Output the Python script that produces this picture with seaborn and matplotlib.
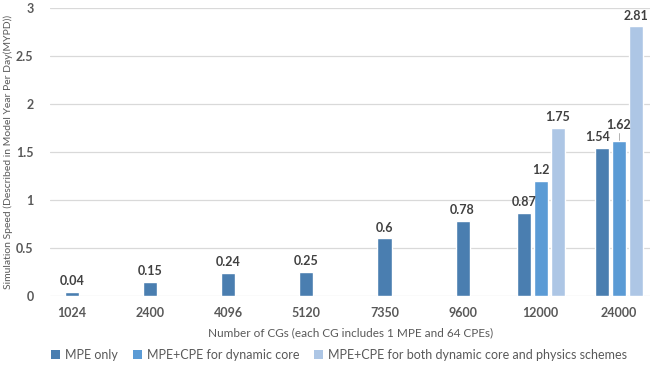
import seaborn as sns
import matplotlib.pyplot as plt
import pandas as pd
import numpy as np
from matplotlib.patches import Patch

# Chart values
categories = ['1024', '2400', '4096', '5120', '7350', '9600', '12000', '24000']
series_names = ['MPE only', 'MPE+CPE for dynamic core',
                'MPE+CPE for both dynamic core and physics schemes']
mpe_only = [0.04, 0.15, 0.24, 0.25, 0.6, 0.78, 0.87, 1.54]
mpe_cpe_dyn = [None, None, None, None, None, None, 1.2, 1.62]
mpe_cpe_both = [None, None, None, None, None, None, 1.75, 2.81]
colors = ['#4A7EB0', '#5B9BD5', '#ADC6E5']

# Build long table; bars in each group centred on the category
step = 0.217
rows = []
for i, cat in enumerate(categories):
    vals = [mpe_only[i], mpe_cpe_dyn[i], mpe_cpe_both[i]]
    present = [(s, v) for s, v in zip(series_names, vals) if v is not None]
    n = len(present)
    for j, (s, v) in enumerate(present):
        rows.append({'pos': i + (j - (n - 1) / 2) * step, 'value': v, 'series': s})
df = pd.DataFrame(rows)

sns.set_style('white')
plt.rcParams['font.family'] = ['Lato', 'DejaVu Sans']

fig = plt.figure(figsize=(6.52, 3.7), dpi=100)
ax = fig.add_axes([0.077, 0.2, 0.92, 0.778])

sns.barplot(data=df, x='pos', y='value', hue='series', hue_order=series_names,
            palette=colors, saturation=1, native_scale=True, dodge=False, width=0.83,
            legend=False, ax=ax)

# Data labels (the two crowded ones in the last group are nudged apart)
last = len(categories) - 1
for _, r in df.iterrows():
    dx, dy = 0, 0.05
    if round(r['pos']) == last and r['series'] == series_names[0]:
        dx = -0.05
    if round(r['pos']) == last and r['series'] == series_names[1]:
        dy = 0.1
        ax.plot([r['pos'], r['pos']], [r['value'] + 0.01, r['value'] + 0.08],
                color='#A6A6A6', lw=0.6)
    ax.text(r['pos'] + dx, r['value'] + dy, f"{r['value']:g}", ha='center', va='bottom',
            fontsize=9, fontweight='bold', color='#404040')

ax.set_ylim(0, 3)
ax.set_xlim(-0.28, 7.4)
ax.set_yticks(np.arange(0, 3.01, 0.5))
ax.set_yticklabels(['0', '0.5', '1', '1.5', '2', '2.5', '3'])
ax.set_xticks(range(len(categories)))
ax.set_xticklabels(categories)
ax.tick_params(axis='both', length=0, labelsize=9, labelcolor='#595959')
ax.tick_params(axis='y', pad=12)
ax.tick_params(axis='x', pad=8)
for lab in ax.get_xticklabels() + ax.get_yticklabels():
    lab.set_fontweight('bold')
ax.yaxis.grid(True, color='#D9D9D9', linewidth=0.9)
ax.set_axisbelow(True)
for sp in ax.spines.values():
    sp.set_visible(False)

ax.set_xlabel('Number of CGs (each CG includes 1 MPE and 64 CPEs)', fontsize=8.5,
              color='#595959', labelpad=6)
ax.set_ylabel('Simulation Speed (Described in Model Year Per Day(MYPD))', fontsize=7.5,
              color='#595959', labelpad=2)

handles = [Patch(facecolor=c, edgecolor='none') for c in colors]
fig.legend(handles, series_names, loc='center', bbox_to_anchor=(0.52, 0.04), ncol=3,
           frameon=False, fontsize=9, handlelength=0.7, handleheight=0.7,
           handletextpad=0.4, columnspacing=1.2, labelcolor='#595959')

fig.savefig('out.png', dpi=100)
